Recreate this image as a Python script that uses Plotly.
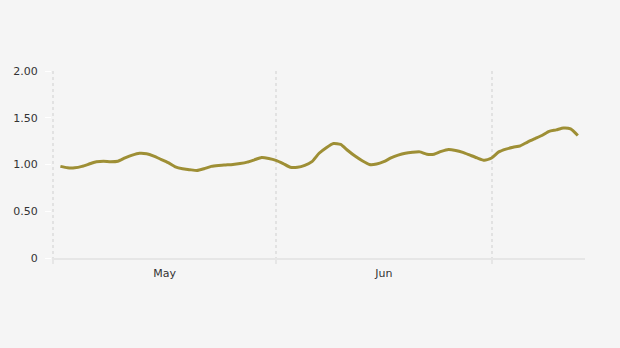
import plotly.graph_objects as go
import pandas as pd

dates = pd.date_range("2024-05-02", "2024-07-13", freq="D").strftime("%Y-%m-%d").tolist()
values = [
    0.98, 0.965, 0.965, 0.98, 1.005, 1.03, 1.035, 1.03, 1.035, 1.07,
    1.10, 1.12, 1.115, 1.09, 1.055, 1.02, 0.975, 0.955, 0.945, 0.935,
    0.955, 0.98, 0.99, 0.995, 1.0, 1.01, 1.025, 1.05, 1.075, 1.065,
    1.045, 1.01, 0.97, 0.97, 0.99, 1.03, 1.12, 1.18, 1.225, 1.215,
    1.15, 1.09, 1.04, 1.0, 1.005, 1.03, 1.07, 1.10, 1.12, 1.13,
    1.135, 1.11, 1.11, 1.14, 1.16, 1.15, 1.13, 1.10, 1.07, 1.045,
    1.07, 1.135, 1.165, 1.185, 1.20, 1.24, 1.275, 1.31, 1.355, 1.37,
    1.39, 1.38, 1.31,
]
y_tickvals = [0, 0.5, 1.0, 1.5, 2.0]
y_ticktext = ["0", "0.50", "1.00", "1.50", "2.00"]

fig = go.Figure()
fig.add_trace(go.Scatter(
    x=dates, y=values, mode="lines",
    line=dict(color="#9e8f35", width=3, shape="spline", smoothing=0.5),
    hoverinfo="skip",
))

fig.update_layout(
    width=620, height=348,
    margin=dict(l=52, r=35, t=71, b=90),
    paper_bgcolor="#f5f5f5", plot_bgcolor="#f5f5f5",
    showlegend=False,
    font=dict(family="DejaVu Sans", size=11, color="#333333"),
)
fig.update_xaxes(
    type="date",
    range=["2024-04-30 20:00", "2024-07-14"],
    dtick="M1", tick0="2024-05-01",
    tickformat="%b", ticklabelmode="period",
    showgrid=True, gridcolor="#e2e2e2", griddash="3px,3px", gridwidth=2,
    showline=True, linecolor="#e6e6e6", linewidth=2,
    ticks="outside", ticklen=4, tickwidth=2, tickcolor="#e6e6e6",
    tickfont=dict(size=11, color="#333333"),
    zeroline=False,
)
fig.update_yaxes(
    range=[0, 2.0],
    tickvals=y_tickvals, ticktext=y_ticktext,
    showgrid=False, zeroline=False, showline=False,
    ticks="outside", ticklen=6, tickcolor="#ffffff",
    ticklabelstandoff=5,
    tickfont=dict(size=11, color="#333333"),
)

fig.write_html("out.html")
